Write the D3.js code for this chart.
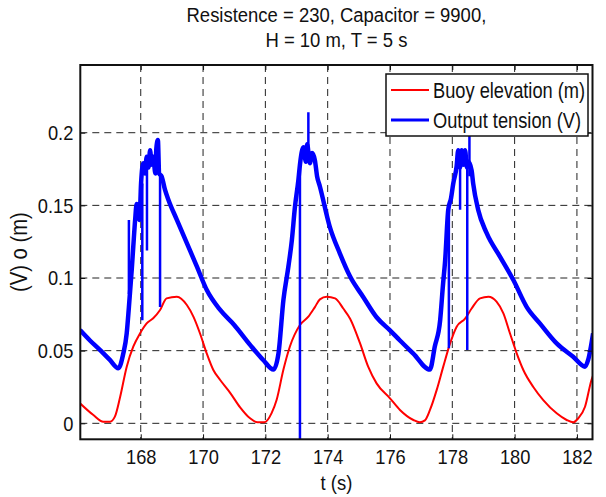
<!DOCTYPE html>
<html>
<head>
<meta charset="utf-8">
<script src="https://cdn.jsdelivr.net/npm/d3@7"></script>
<style>
  body { margin: 0; background: #fff; }
  svg { display: block; }
  text { font-family: "Liberation Sans", Arial, sans-serif; fill: #111; }
</style>
</head>
<body>
<svg id="chart" width="606" height="497"></svg>
<script>
// buoy elevation (m)
const buoyT = [166.05, 166.48, 166.80, 167.01, 167.17, 167.34, 167.55, 167.76, 167.98, 168.19,
  168.40, 168.62, 168.83, 169.16, 169.48, 169.69, 169.90, 170.12, 170.33, 170.55,
  170.87, 171.19, 171.50, 171.75, 171.97, 172.20, 172.36, 172.58, 172.79, 173.11,
  173.38, 173.59, 173.75, 173.97, 174.24, 174.50, 174.72, 175.04, 175.30, 175.57,
  176.00, 176.32, 176.75, 176.96, 177.12, 177.28, 177.50, 177.71, 177.93, 178.14,
  178.41, 178.62, 178.89, 179.16, 179.42, 179.64, 179.85, 180.07, 180.28, 180.60,
  180.92, 181.35, 181.67, 181.88, 182.04, 182.26, 182.47, 182.52];
const buoyV = [0.0138, 0.0057, 0.0011, 0.0011, 0.0046, 0.0183, 0.039, 0.0527, 0.062, 0.0688,
  0.0723, 0.078, 0.086, 0.0871, 0.0814, 0.0734, 0.062, 0.048, 0.0367, 0.0298,
  0.021, 0.011, 0.0036, 0.0007, 0.0007, 0.007, 0.016, 0.037, 0.053, 0.0677,
  0.0734, 0.080, 0.0853, 0.0871, 0.086, 0.079, 0.072, 0.055, 0.039, 0.0275,
  0.0172, 0.0092, 0.0023, 0.0007, 0.002, 0.009, 0.023, 0.039, 0.055, 0.0665,
  0.072, 0.079, 0.086, 0.0871, 0.0837, 0.0757, 0.062, 0.048, 0.0367, 0.025,
  0.016, 0.0069, 0.0023, 0.0007, 0.0034, 0.0114, 0.030, 0.033];

// output tension (V)
const tensionT = [166.05, 166.37, 166.69, 167.01, 167.28, 167.44, 167.55, 167.62, 167.71, 167.76,
  167.82, 167.87, 167.96, 168.01, 168.08, 168.14, 168.19, 168.25, 168.30, 168.35,
  168.40, 168.47, 168.50, 168.55, 168.59, 168.67, 168.78, 168.89, 169.16, 169.48,
  169.80, 170.12, 170.55, 171.00, 171.51, 171.93, 172.26, 172.42, 172.58, 172.74,
  172.85, 172.95, 173.06, 173.11, 173.22, 173.30, 173.34, 173.43, 173.50, 173.59,
  173.66, 173.75, 174.07, 174.39, 174.72, 175.14, 175.57, 176.00, 176.32, 176.75,
  177.28, 177.44, 177.61, 177.70, 177.77, 177.87, 177.96, 178.03, 178.14, 178.19,
  178.25, 178.30, 178.36, 178.41, 178.47, 178.52, 178.62, 178.67, 178.83, 179.10,
  179.53, 179.96, 180.39, 180.81, 181.35, 181.88, 182.26, 182.36, 182.52];
const tensionV = [0.0642, 0.057, 0.0505, 0.0436, 0.0379, 0.048, 0.062, 0.080, 0.1055, 0.1215,
  0.140, 0.151, 0.140, 0.165, 0.179, 0.172, 0.1835, 0.176, 0.188, 0.178,
  0.1835, 0.172, 0.189, 0.195, 0.172, 0.170, 0.1606, 0.1537, 0.140, 0.124,
  0.108, 0.0917, 0.078, 0.0677, 0.054, 0.0436, 0.037, 0.048, 0.085, 0.108,
  0.126, 0.149, 0.1675, 0.178, 0.190, 0.180, 0.192, 0.179, 0.186, 0.181,
  0.170, 0.163, 0.135, 0.117, 0.101, 0.087, 0.073, 0.064, 0.057, 0.048,
  0.037, 0.053, 0.071, 0.095, 0.112, 0.147, 0.155, 0.165, 0.177, 0.188,
  0.176, 0.188, 0.178, 0.188, 0.176, 0.180, 0.174, 0.165, 0.147, 0.131,
  0.1147, 0.0986, 0.080, 0.0688, 0.055, 0.0458, 0.039, 0.0436, 0.062];

// spikes in the tension signal: time, low, high
const spikeT = [167.62, 168.05, 168.20, 168.62, 173.11, 173.38, 177.89, 178.25, 178.48, 178.55];
const spikeLo = [0.089, 0.071, 0.119, 0.080, -0.03, 0.180, 0.0516, 0.147, 0.0505, 0.170];
const spikeHi = [0.140, 0.165, 0.183, 0.172, 0.178, 0.214, 0.147, 0.188, 0.180, 0.215];

const xTicks = [168, 170, 172, 174, 176, 178, 180, 182];
const yTicks = [0, 0.05, 0.1, 0.15, 0.2];
const titleLines = ["Resistence = 230, Capacitor = 9900,", "H = 10 m, T = 5 s"];
const seriesNames = ["Buoy elevation (m)", "Output tension (V)"];
const seriesColors = ["#ff0000", "#0000ff"];

const svg = d3.select("#chart");
const margin = { top: 65, right: 13.5, bottom: 57.7, left: 80.3 };
const width = 606, height = 497;
const w = width - margin.left - margin.right;
const h = height - margin.top - margin.bottom;

const g = svg.append("g")
    .attr("transform", `translate(${margin.left},${margin.top})`);

const x = d3.scaleLinear().domain([166.06, 182.5]).range([0, w]);
const y = d3.scaleLinear().domain([-0.011, 0.2466]).range([h, 0]);

g.append("defs").append("clipPath").attr("id", "clip")
    .append("rect").attr("width", w).attr("height", h);

// grid
g.append("g").selectAll("line")
    .data(xTicks).enter().append("line")
    .attr("x1", d => x(d)).attr("x2", d => x(d))
    .attr("y1", 0).attr("y2", h)
    .attr("stroke", "#222").attr("stroke-dasharray", "7,5");
g.append("g").selectAll("line")
    .data(yTicks).enter().append("line")
    .attr("x1", 0).attr("x2", w)
    .attr("y1", d => y(d)).attr("y2", d => y(d))
    .attr("stroke", "#222").attr("stroke-dasharray", "7,5");

// curves
const plot = g.append("g").attr("clip-path", "url(#clip)");
const line = d3.line().x(d => x(d[0])).y(d => y(d[1])).curve(d3.curveMonotoneX);

plot.append("path")
    .datum(buoyT.map((t, i) => [t, buoyV[i]]))
    .attr("d", line)
    .attr("fill", "none").attr("stroke", seriesColors[0]).attr("stroke-width", 2);

plot.append("path")
    .datum(tensionT.map((t, i) => [t, tensionV[i]]))
    .attr("d", line)
    .attr("fill", "none").attr("stroke", seriesColors[1]).attr("stroke-width", 4.5)
    .attr("stroke-linejoin", "round");

plot.selectAll(".spike")
    .data(spikeT.map((t, i) => ({ t, lo: spikeLo[i], hi: spikeHi[i] })))
    .enter().append("line")
    .attr("x1", d => x(d.t)).attr("x2", d => x(d.t))
    .attr("y1", d => y(d.lo)).attr("y2", d => y(d.hi))
    .attr("stroke", seriesColors[1]).attr("stroke-width", 2.5);

// axes, ticks pointing inward
function styleAxis(sel) {
    sel.select(".domain").remove();
    sel.selectAll("line").attr("stroke", "#111").attr("stroke-width", 1);
    sel.selectAll("text").style("font-size", "21px");
}
g.append("g").attr("transform", `translate(0,${h})`)
    .call(d3.axisBottom(x).tickValues(xTicks).tickSize(-5).tickPadding(10).tickFormat(d3.format("d")))
    .call(styleAxis)
    .selectAll("text").attr("transform", "scale(0.87,1)");
g.append("g")
    .call(d3.axisTop(x).tickValues(xTicks).tickSize(-5).tickFormat(""))
    .call(styleAxis);
g.append("g")
    .call(d3.axisLeft(y).tickValues(yTicks).tickSize(-5).tickPadding(8).tickFormat(d => d === 0 ? "0" : d3.format("")(d)))
    .call(styleAxis)
    .selectAll("text").attr("transform", "scale(0.87,1)");
g.append("g").attr("transform", `translate(${w},0)`)
    .call(d3.axisRight(y).tickValues(yTicks).tickSize(-5).tickFormat(""))
    .call(styleAxis);

g.append("rect").attr("width", w).attr("height", h)
    .attr("fill", "none").attr("stroke", "#111").attr("stroke-width", 2);

// labels
function scaledText(parent, tx, ty, txt, size, sx, rot) {
    parent.append("text")
        .attr("transform", `translate(${tx},${ty})${rot ? " rotate(" + rot + ")" : ""} scale(${sx},1)`)
        .attr("text-anchor", "middle")
        .style("font-size", size + "px")
        .text(txt);
}
titleLines.forEach((t, i) => scaledText(svg, margin.left + w / 2, 22 + i * 25, t, 21, 0.88));
scaledText(svg, margin.left + w / 2, 490, "t (s)", 21, 0.88);
scaledText(svg, 27, margin.top + h / 2, "(V) o (m)", 23, 0.88, -90);

// legend
const lg = g.append("g").attr("transform", `translate(${386 - margin.left},${74 - margin.top})`);
lg.append("rect").attr("width", 202).attr("height", 62)
    .attr("fill", "#fff").attr("stroke", "#111").attr("stroke-width", 1.5);
seriesNames.forEach((name, i) => {
    const yy = 16 + i * 30;
    lg.append("line").attr("x1", 5).attr("x2", 43).attr("y1", yy).attr("y2", yy)
        .attr("stroke", seriesColors[i]).attr("stroke-width", i === 0 ? 2 : 3);
    lg.append("text")
        .attr("transform", `translate(47,${yy + 8}) scale(0.83,1)`)
        .style("font-size", "22px")
        .text(name);
});
</script>
</body>
</html>
